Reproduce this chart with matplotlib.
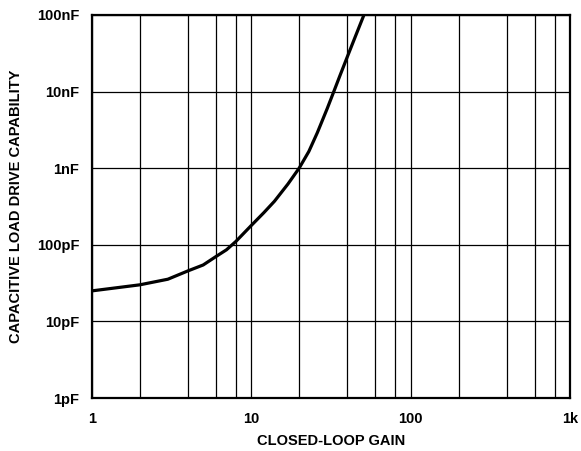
import numpy as np
import matplotlib.pyplot as plt
from matplotlib.ticker import FixedLocator, NullFormatter, NullLocator

plt.rcParams['font.family'] = ['Liberation Sans', 'DejaVu Sans']

# curve (gain, capacitance in pF)
gain = [1, 2, 3, 4, 5, 6, 7, 8, 10, 12, 14, 17, 20, 23, 26, 30, 33, 36, 40, 45, 51]
cap_pf = [25, 30, 35.5, 45.5, 54.5, 70, 86, 110, 178, 262, 370, 620, 1000,
          1650, 2900, 6000, 10000, 16000, 28000, 52000, 100000]

x_ticks = [1, 10, 100, 1000]
x_labels = ['1', '10', '100', '1k']
y_ticks = [1e-12, 1e-11, 1e-10, 1e-9, 1e-8, 1e-7]
y_labels = ['1pF', '10pF', '100pF', '1nF', '10nF', '100nF']
x_grid = [2, 4, 6, 8, 20, 40, 60, 80, 200, 400, 600, 800]

cap = np.array(cap_pf) * 1e-12

fig = plt.figure(figsize=(5.81, 4.51), dpi=100)
ax = fig.add_axes([0.158, 0.1175, 0.823, 0.8495])

ax.plot(gain, cap, color='black', lw=2.3, zorder=3, solid_joinstyle='round')

ax.set_xscale('log')
ax.set_yscale('log')
ax.set_xlim(1, 1000)
ax.set_ylim(1e-12, 1e-7)

ax.xaxis.set_major_locator(FixedLocator(x_ticks))
ax.set_xticklabels(x_labels, fontsize=10.5, fontweight='bold')
ax.xaxis.set_minor_locator(FixedLocator(x_grid))
ax.xaxis.set_minor_formatter(NullFormatter())
ax.yaxis.set_major_locator(FixedLocator(y_ticks))
ax.set_yticklabels(y_labels, fontsize=10.5, fontweight='bold')
ax.yaxis.set_minor_locator(NullLocator())

ax.tick_params(which='both', length=0)
ax.tick_params(axis='x', pad=10)
ax.tick_params(axis='y', pad=9)

ax.grid(which='major', color='black', lw=0.9)
ax.grid(which='minor', axis='x', color='black', lw=0.9)

for s in ax.spines.values():
    s.set_linewidth(1.6)

ax.set_xlabel('CLOSED-LOOP GAIN', fontsize=10.5, fontweight='bold', labelpad=6)
ax.set_ylabel('CAPACITIVE LOAD DRIVE CAPABILITY', fontsize=10.5, fontweight='bold', labelpad=10)

fig.savefig('out.png', dpi=100)
